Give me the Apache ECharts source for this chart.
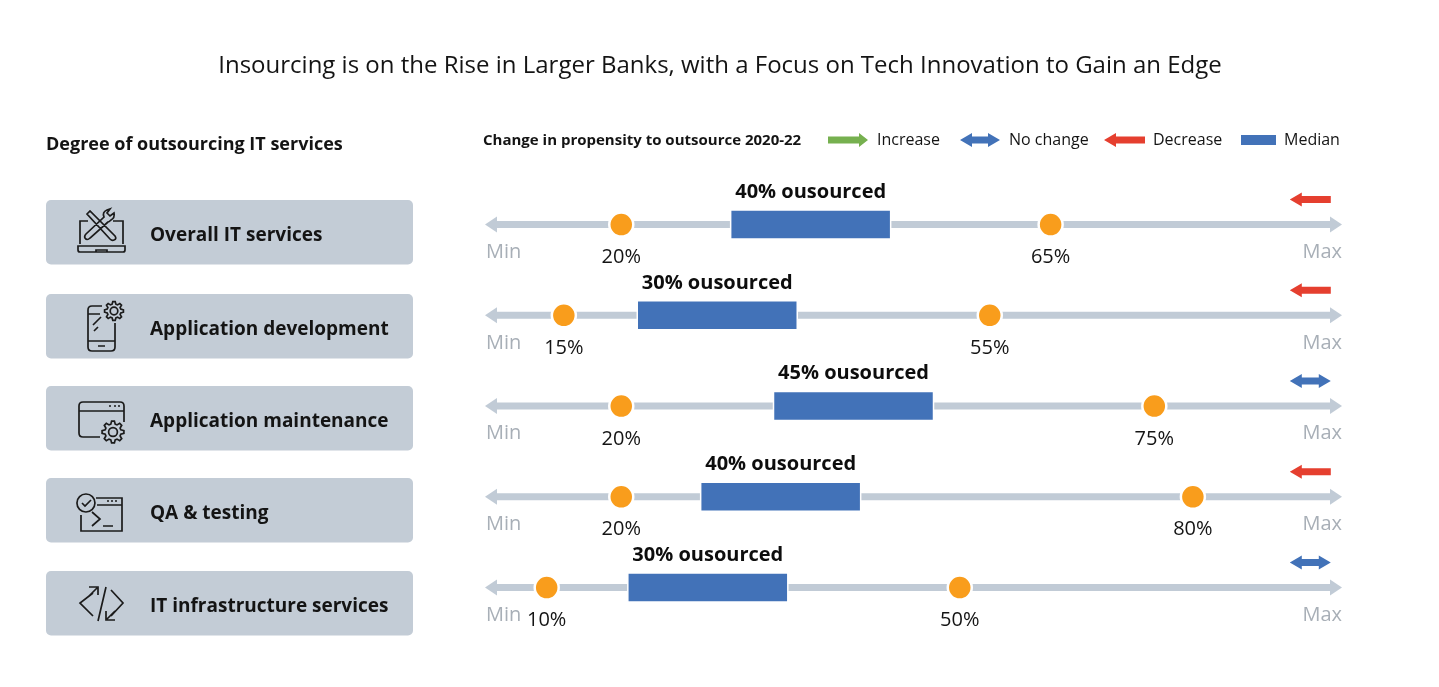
<!DOCTYPE html>
<html><head><meta charset="utf-8">
<style>html,body{margin:0;padding:0;background:#fff}#c{width:1439px;height:687px}</style>
<script src="https://cdn.jsdelivr.net/npm/echarts@6/dist/echarts.min.js"></script>
</head><body><div id="c"></div>
<script>
const categories = ['Overall IT services','Application development','Application maintenance','QA & testing','IT infrastructure services'];
const lowLabels = ['20%','15%','20%','20%','10%'];
const highLabels = ['65%','55%','75%','80%','50%'];
const medianLabels = ['40% ousourced','30% ousourced','45% ousourced','40% ousourced','30% ousourced'];
// drawn position of each mark along the Min (0) to Max (100) track
const lowPositions = [15.9, 9.2, 15.9, 15.9, 7.2];
const highPositions = [66.0, 58.9, 78.1, 82.6, 55.4];
const medianPositions = [38.0, 27.1, 43.0, 34.5, 26.0];
const changes = ['Decrease','Decrease','No change','Decrease','No change'];
const legendItems = ['Increase','No change','Decrease','Median'];
const tickLabels = ['Min','Max'];

const FONT = '"Open Sans"';
const C = {track:'#c1cbd6', box:'#c3ccd6', blue:'#4272b8', red:'#e53f2f', green:'#76b04f', orange:'#f99d1c', grey:'#a8afb7', ink:'#141414'};

function rightArrow(x1,x2,y,col){return {type:'polygon',shape:{points:[[x1,y-3.5],[x2-9,y-3.5],[x2-9,y-7],[x2,y],[x2-9,y+7],[x2-9,y+3.5],[x1,y+3.5]]},style:{fill:col}};}
function leftArrow(x1,x2,y,col){return {type:'polygon',shape:{points:[[x2,y-3.5],[x1+12,y-3.5],[x1+12,y-7],[x1,y],[x1+12,y+7],[x1+12,y+3.5],[x2,y+3.5]]},style:{fill:col}};}
function bothArrow(x1,x2,y,col){return {type:'polygon',shape:{points:[[x1,y],[x1+12,y-7],[x1+12,y-3.5],[x2-12,y-3.5],[x2-12,y-7],[x2,y],[x2-12,y+7],[x2-12,y+3.5],[x1+12,y+3.5],[x1+12,y+7]]},style:{fill:col}};}

function gear(cx,cy,r){
  let d='';const n=8;
  for(let i=0;i<n;i++){
    const a=i/n*Math.PI*2, w=Math.PI/n*0.55;
    const pts=[[r*0.74,a-w*1.25],[r,a-w*0.6],[r,a+w*0.6],[r*0.74,a+w*1.25]];
    pts.forEach((p,j)=>{d+=((i===0&&j===0)?'M':'L')+(cx+p[0]*Math.cos(p[1])).toFixed(1)+' '+(cy+p[0]*Math.sin(p[1])).toFixed(1)+' ';});
  }
  d+='Z ';
  const q=r*0.4;
  d+=`M${cx-q} ${cy} A${q} ${q} 0 1 1 ${cx+q} ${cy} A${q} ${q} 0 1 1 ${cx-q} ${cy} Z `;
  return d;
}
const icons = [
 'M80 244 V221 H88 M113 221 H123 V244 M78 246 H125 V250 Q125 252 123 252 H80 Q78 252 78 250 Z M96 252 V250 H107 V252 '+
 'M87 214 L90 211 L115 236 Q117 239 114 240 Q112 241 110 239 Z '+
 'M108 222 L90 238 Q87 241 85 238 Q84 236 86 234 L104 217 Q102 212 107 210 L110 209 L107 213 L110 216 L114 213 Q115 218 111 220 Q109 222 108 222 Z',
 'M102 306 H92 Q88 306 88 310 V347 Q88 351 92 351 H111 Q115 351 115 347 V323 M88 314 H100 M88 341 H115 M98 346 H105 M93 325 L101 317 M94 331 L98 327 '+gear(114,311,9.5),
 'M100 437 H83 Q79 437 79 433 V406 Q79 402 83 402 H120 Q124 402 124 406 V422 M79 411 H124 M109 406 H111 M114 406 H116 M118 406 H120 '+gear(113,432,11),
 'M86 494 A9 9 0 1 1 85.9 494 Z M82 503 L85 506 L91 500 M96 498 H122 V531 H81 V515 M97 505 H122 M107 501 H109 M111 501 H113 M115 501 H117 M92 512 L100 519 L92 526 M103 526 H113',
 'M93 593 L80 603 L93 616 M106 587 L98 621 M111 590 L123 603 L111 616 M89 596 L97 588 M89 587 H98 V595 M107 619 L115 611 M106 611 V620 H115'
];
icons.forEach((d,i)=>echarts.graphic.registerShape('icon'+i, echarts.graphic.extendPath(d,{})));
const boxTops = [200,294,386,478,571];
const legendX = [877,1009,1153,1284];

const graphic = [
 {type:'text',style:{x:720,y:66,text:'Insourcing is on the Rise in Larger Banks, with a Focus on Tech Innovation to Gain an Edge',font:'400 24px '+FONT,fill:C.ink,textAlign:'center',textVerticalAlign:'middle'}},
 {type:'text',style:{x:46,y:145,text:'Degree of outsourcing IT services',font:'700 18px '+FONT,fill:C.ink,textVerticalAlign:'middle'}},
 {type:'text',style:{x:483,y:141,text:'Change in propensity to outsource 2020-22',font:'700 15px '+FONT,fill:C.ink,textVerticalAlign:'middle'}},
 rightArrow(828,868,140,C.green),
 bothArrow(960,1000,140,C.blue),
 leftArrow(1104,1145,140,C.red),
 {type:'rect',shape:{x:1241,y:135,width:35,height:10},style:{fill:C.blue}}
];
legendItems.forEach((t,i)=>graphic.push({type:'text',style:{x:legendX[i],y:140.5,text:t,font:'400 16px '+FONT,fill:C.ink,textVerticalAlign:'middle'}}));
categories.forEach((t,i)=>{
  graphic.push({type:'rect',z:1,shape:{x:46,y:boxTops[i],width:367,height:64.5,r:5},style:{fill:C.box}});
  graphic.push({type:'text',z:2,style:{x:150,y:boxTops[i]+35.5,text:t,font:'700 19px '+FONT,fill:C.ink,textVerticalAlign:'middle'}});
  graphic.push({type:'icon'+i,z:2,style:{fill:'none',stroke:'#1b1b1b',lineWidth:1.7}});
});

const chart = echarts.init(document.getElementById('c'),null,{renderer:'canvas'});
chart.setOption({
  animation:false,
  backgroundColor:'#fff',
  graphic,
  grid:{left:485,right:97,top:179.2,bottom:54,containLabel:false},
  xAxis:{type:'value',min:0,max:100,show:false},
  yAxis:{type:'category',data:categories,inverse:true,show:false},
  series:[
   {type:'custom',z:2,clip:false,silent:true,data:categories.map((c,i)=>[0,100,i]),encode:{x:[0,1],y:2},
    renderItem(p,api){
      const a=api.coord([api.value(0),api.value(2)]), b=api.coord([api.value(1),api.value(2)]);
      const y=a[1], h=3.5;
      const pts=[[a[0],y],[a[0]+12,y-8],[a[0]+12,y-h],[b[0]-12,y-h],[b[0]-12,y-8],[b[0],y],[b[0]-12,y+8],[b[0]-12,y+h],[a[0]+12,y+h],[a[0]+12,y+8]];
      return {type:'group',children:[
        {type:'polygon',shape:{points:pts},style:{fill:C.track}},
        {type:'text',style:{x:a[0]+1,y:y+27.5,text:tickLabels[0],font:'400 20px '+FONT,fill:C.grey,textAlign:'left',textVerticalAlign:'middle'}},
        {type:'text',style:{x:b[0],y:y+27.5,text:tickLabels[1],font:'400 20px '+FONT,fill:C.grey,textAlign:'right',textVerticalAlign:'middle'}}
      ]};
    }},
   {type:'custom',z:3,clip:false,silent:true,data:medianPositions.map((v,i)=>[v,i]),encode:{x:0,y:1},
    renderItem(p,api){
      const c=api.coord([api.value(0),api.value(1)]);
      return {type:'group',children:[
        {type:'rect',shape:{x:c[0]-80,y:c[1]-14.5,width:160,height:29},style:{fill:C.blue,stroke:'#fff',lineWidth:1.5}},
        {type:'text',style:{x:c[0],y:c[1]-32.5,text:medianLabels[p.dataIndex],font:'700 20px '+FONT,fill:'#0d0d0d',textAlign:'center',textVerticalAlign:'middle'}}
      ]};
    }},
   {type:'scatter',z:4,silent:true,data:lowPositions.map((v,i)=>[v,i]),symbolSize:24,itemStyle:{color:C.orange,borderColor:'#fff',borderWidth:2.5,opacity:1},
    label:{show:true,position:'bottom',distance:9.5,formatter:p=>lowLabels[p.dataIndex],fontFamily:FONT,fontSize:20,color:C.ink}},
   {type:'scatter',z:4,silent:true,data:highPositions.map((v,i)=>[v,i]),symbolSize:24,itemStyle:{color:C.orange,borderColor:'#fff',borderWidth:2.5,opacity:1},
    label:{show:true,position:'bottom',distance:9.5,formatter:p=>highLabels[p.dataIndex],fontFamily:FONT,fontSize:20,color:C.ink}},
   {type:'custom',z:4,clip:false,silent:true,data:changes.map((v,i)=>[96.3,i]),encode:{x:0,y:1},
    renderItem(p,api){
      const c=api.coord([api.value(0),api.value(1)]), y=c[1]-25, k=changes[p.dataIndex];
      return k==='Decrease'?leftArrow(c[0]-20.5,c[0]+20.5,y,C.red):k==='No change'?bothArrow(c[0]-20.5,c[0]+20.5,y,C.blue):rightArrow(c[0]-20.5,c[0]+20.5,y,C.green);
    }}
  ]
});
</script></body></html>
